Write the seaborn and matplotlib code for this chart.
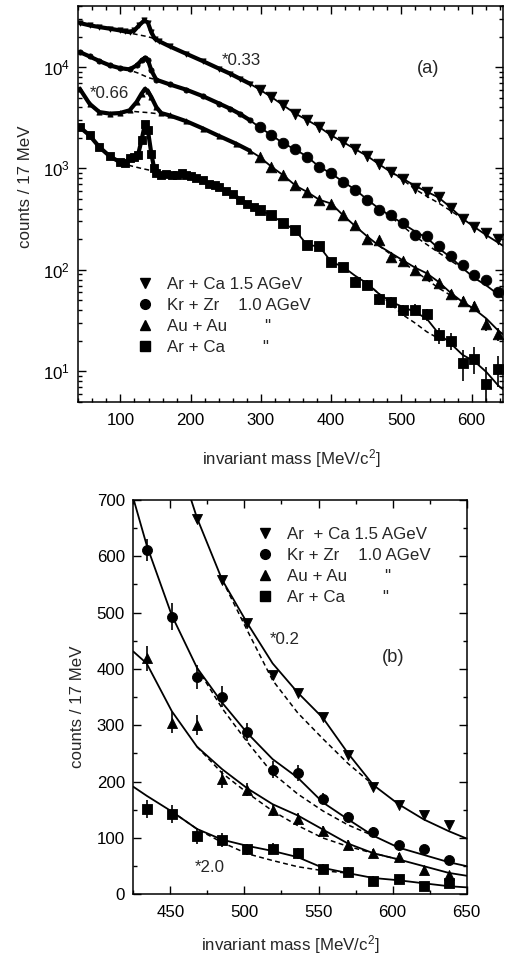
import numpy as np
import pandas as pd
import matplotlib
matplotlib.use("Agg")
import matplotlib.pyplot as plt
import seaborn as sns
from matplotlib.lines import Line2D
from matplotlib.ticker import FixedLocator, MultipleLocator, NullFormatter, FuncFormatter, LogLocator

sns.set_theme(style="ticks")
plt.rcParams["font.family"] = ["Liberation Sans", "DejaVu Sans"]
plt.rcParams["mathtext.fontset"] = "custom"
plt.rcParams["mathtext.rm"] = "Liberation Sans"
plt.rcParams["mathtext.it"] = "Liberation Sans:italic"
plt.rcParams["mathtext.default"] = "regular"

# ---------------- data (raw counts / 17 MeV) ----------------
MARKERS = ["v", "o", "^", "s"]
SCALE_A = [0.33, 1.0, 0.66, 1.0]   # scale factors used in panel (a)
SCALE_B = [0.2, 1.0, 1.0, 2.0]     # scale factors used in panel (b)

BINS = [298, 315, 332, 349, 366, 383, 400, 417, 434, 451, 468, 485, 502, 519,
        536, 553, 570, 587, 604, 621, 638]

s1_counts = [18200, 15330, 12700, 10520, 9090, 7760, 6420, 5520, 4700, 4030, 3335,
             2790, 2405, 1945, 1785, 1575, 1235, 955, 795, 705, 615]
s1_err = [90, 80, 75, 70, 65, 60, 55, 50, 45, 40, 35, 32, 30, 28, 26, 24, 22, 20, 18, 16, 15]
s2_counts = [2550, 2130, 1766, 1540, 1303, 1038, 893, 738, 611, 493, 386, 351, 289,
             221, 215, 170, 138, 111, 88, 80, 61]
s2_err = [40, 36, 33, 30, 28, 26, 24, 22, 20, 24, 21, 18, 16, 15, 14, 10, 9, 8, 7, 6, 5]
s3_counts = [1970, 1575, 1295, 1030, 886, 745, 682, 523, 419, 305, 300, 204, 186,
             150, 134, 112, 88, 74, 66, 44, 35]
s3_err = [35, 32, 29, 27, 25, 23, 22, 22, 22, 18, 18, 15, 12, 11, 10, 9, 8, 7, 7, 6, 5]
s4_counts = [390, 344, 290, 245, 175, 171, 120, 107, 76, 71, 51.5, 48, 40, 40.5,
             36.5, 22.5, 20, 12, 13.3, 7.5, 10.5]
s4_err = [12, 11, 10, 10, 9, 9, 8, 8, 8, 8, 7, 6, 5, 5, 5, 4, 4, 4, 4, 3.5, 3.5]

# fine-binned low-mass spectra (panel a)
s1_dense_x = [42, 56, 70, 85, 99, 106, 113, 120, 127, 134, 139, 144, 149, 155, 170,
              194, 218, 241, 256, 270, 284]
s1_dense_y = [82400, 78200, 75200, 72400, 69700, 68200, 67000, 69700, 78800, 87300,
              83300, 66700, 57600, 54500, 48500, 40900, 34500, 29100, 26100, 23300, 20800]
s2_dense_x = [42, 56, 70, 85, 99, 113, 123, 130, 135, 139, 144, 151, 170, 194, 218,
              241, 256, 270, 284]
s2_dense_y = [14060, 12740, 11460, 10380, 9770, 9480, 10380, 11640, 12370, 11800,
              9270, 7500, 6750, 5970, 5140, 4350, 3890, 3450, 3000]
s3_dense_x = [42, 56, 70, 85, 99, 113, 123, 130, 135, 139, 144, 151, 158, 170, 194,
              218, 241, 265, 284]
s3_dense_y = [9260, 6590, 5450, 5260, 5330, 5670, 6850, 8270, 9260, 8770, 7670, 6110,
              5330, 5050, 4420, 3740, 3150, 2650, 2270]
s4_dense_x = [42, 56, 70, 85, 99, 106, 113, 120, 125, 130, 135, 139, 144, 148, 151,
              158, 165, 173, 180, 187, 194, 200, 208, 218, 226, 234, 241, 250, 260,
              270, 280, 290]
s4_dense_y = [2560, 2120, 1625, 1315, 1157, 1120, 1280, 1290, 1350, 1900, 2750, 2400,
              1400, 1000, 900, 870, 880, 870, 860, 900, 860, 850, 800, 765, 700, 690,
              650, 600, 563, 490, 450, 420]

# full fit (solid curves)
FIT_X = [425, 434, 451, 468, 485, 502, 519, 536, 553, 570, 587, 604, 621, 638, 650]
s1_fit = [5100, 4700, 4030, 3340, 2790, 2405, 2050, 1790, 1565, 1250, 970, 800, 665, 560, 495]
s2_fit = [703, 620, 495, 402, 340, 286, 240, 207, 163, 133, 104, 83, 70, 57, 50]
s3_fit = [431, 410, 325, 262, 222, 188, 160, 140, 115, 90, 73, 62, 50, 38, 33]
s4_fit = [95.5, 87.5, 73.5, 58, 48.5, 43, 38.5, 33, 23.5, 18.8, 14.5, 12.5, 9.8, 7.2, 6.2]

# background fits (dashed curves): low-mass part and high-mass part
s1_bg_lo_x = [106, 120, 135, 144, 155]
s1_bg_lo_y = [67000, 64200, 61200, 59100, 54500]
s2_bg_lo_x = [108, 125, 140, 151]
s2_bg_lo_y = [9600, 8730, 7850, 7500]
s3_bg_lo_x = [108, 125, 140, 155, 165]
s3_bg_lo_y = [5610, 5480, 5380, 5230, 5110]
s4_bg_lo_x = [100, 115, 130, 145, 160, 180, 200, 220, 240, 260]
s4_bg_lo_y = [1140, 1060, 1000, 950, 900, 840, 790, 730, 660, 570]

s1_bg_hi_x = [485, 502, 519, 536, 553, 570, 587]
s1_bg_hi_y = [2790, 2340, 1900, 1610, 1380, 1160, 970]
s2_bg_hi_x = [468, 485, 502, 519, 536, 553, 570, 587]
s2_bg_hi_y = [402, 330, 270, 215, 178, 148, 123, 104]
s3_bg_hi_x = [468, 485, 502, 519, 536, 553, 570, 587, 604]
s3_bg_hi_y = [262, 215, 180, 148, 122, 100, 85, 73, 62]
s4_bg_hi_x = [451, 468, 485, 502, 519, 536, 553, 570]
s4_bg_hi_y = [73.5, 58, 46, 36, 30, 24.5, 21, 18.8]

LEG_A = ["Ar + Ca 1.5 AGeV", "Kr + Zr    1.0 AGeV", 'Au + Au        "', 'Ar + Ca        "']
LEG_B = ["Ar  + Ca 1.5 AGeV", "Kr + Zr    1.0 AGeV", 'Au + Au        "', 'Ar + Ca        "']

series = [
    dict(cnt=s1_counts, err=s1_err, dx=s1_dense_x, dy=s1_dense_y, fit=s1_fit,
         blx=s1_bg_lo_x, bly=s1_bg_lo_y, bhx=s1_bg_hi_x, bhy=s1_bg_hi_y),
    dict(cnt=s2_counts, err=s2_err, dx=s2_dense_x, dy=s2_dense_y, fit=s2_fit,
         blx=s2_bg_lo_x, bly=s2_bg_lo_y, bhx=s2_bg_hi_x, bhy=s2_bg_hi_y),
    dict(cnt=s3_counts, err=s3_err, dx=s3_dense_x, dy=s3_dense_y, fit=s3_fit,
         blx=s3_bg_lo_x, bly=s3_bg_lo_y, bhx=s3_bg_hi_x, bhy=s3_bg_hi_y),
    dict(cnt=s4_counts, err=s4_err, dx=s4_dense_x, dy=s4_dense_y, fit=s4_fit,
         blx=s4_bg_lo_x, bly=s4_bg_lo_y, bhx=s4_bg_hi_x, bhy=s4_bg_hi_y),
]

FS = 12.2
K = "black"
DASH = (0, (3.2, 2.2))

fig = plt.figure(figsize=(5.10, 9.56), dpi=100)
fig.patch.set_facecolor("white")
ax1 = fig.add_axes([0.1535, 0.5798, 0.8333, 0.4139])
ax2 = fig.add_axes([0.2614, 0.0645, 0.6537, 0.4125])


def line(ax, x, y, lw, ls="-", z=2):
    df = pd.DataFrame({"x": np.asarray(x, float), "y": np.asarray(y, float)})
    sns.lineplot(data=df, x="x", y="y", ax=ax, color=K, linewidth=lw, linestyle=ls,
                 sort=False, estimator=None, legend=False, zorder=z)


def points(ax, x, y, marker, size, z=4):
    df = pd.DataFrame({"x": np.asarray(x, float), "y": np.asarray(y, float)})
    sns.scatterplot(data=df, x="x", y="y", ax=ax, marker=marker, s=size, color=K,
                    edgecolor=K, linewidth=0.6, legend=False, zorder=z)


bins = np.array(BINS, float)
fitx = np.array(FIT_X, float)

# ---------------- panel (a) ----------------
for i, sd in enumerate(series):
    sc = SCALE_A[i]
    cnt = np.array(sd["cnt"], float) * sc
    err = np.array(sd["err"], float) * sc
    fit = np.array(sd["fit"], float) * sc
    dx = np.array(sd["dx"], float)
    dy = np.array(sd["dy"], float) * sc
    # dense low-mass data
    line(ax1, dx, dy, 3.0)
    points(ax1, dx, dy, MARKERS[i], 26 if i == 3 else 14)
    # solid curve continuing through the coarse data and the fit
    m_lo = bins < 434
    m_hi = fitx >= 434
    sx = np.concatenate([dx, bins[m_lo], fitx[m_hi]])
    sy = np.concatenate([dy, cnt[m_lo], fit[m_hi]])
    line(ax1, sx, sy, 1.3)
    # dashed backgrounds
    line(ax1, sd["blx"], np.array(sd["bly"], float) * sc, 1.1, DASH, z=3)
    line(ax1, sd["bhx"], np.array(sd["bhy"], float) * sc, 1.1, DASH, z=3)
    # coarse data
    ax1.errorbar(bins, cnt, yerr=err, fmt="none", ecolor=K, elinewidth=1.2, capsize=0, zorder=3)
    points(ax1, bins, cnt, MARKERS[i], 58 if i != 3 else 48)

ax1.set_yscale("log")
ax1.set_xlim(40, 645)
ax1.set_ylim(5, 4e4)
ax1.xaxis.set_major_locator(FixedLocator([100, 200, 300, 400, 500, 600]))
ax1.xaxis.set_minor_locator(MultipleLocator(20))
ax1.yaxis.set_major_locator(FixedLocator([10, 100, 1000, 10000]))
ax1.yaxis.set_minor_locator(LogLocator(base=10, subs=np.arange(2, 10)))
ax1.yaxis.set_minor_formatter(NullFormatter())
ax1.yaxis.set_major_formatter(FuncFormatter(lambda v, p: r"$10^{%d}$" % int(round(np.log10(v)))))
ax1.set_xlabel("invariant mass [MeV/c$^{2}$]", fontsize=FS)
ax1.set_ylabel("counts / 17 MeV", fontsize=FS)
ax1.xaxis.set_label_coords(0.502, -0.114)
ax1.yaxis.set_label_coords(-0.107, 0.543)

ax1.text(244, 11600, "*0.33", fontsize=FS, va="center", ha="left")
ax1.text(56, 5500, "*0.66", fontsize=FS, va="center", ha="left")
ax1.text(522, 9700, "(a)", fontsize=FS + 1, va="center", ha="left")

handles = [Line2D([], [], marker=m, color=K, linestyle="none", markersize=7) for m in MARKERS]
ax1.legend(handles, LEG_A, loc="upper left", bbox_to_anchor=(0.137, 0.315),
           frameon=False, fontsize=FS, handlelength=1.0, handletextpad=0.8,
           labelspacing=0.36, borderpad=0, borderaxespad=0)

# ---------------- panel (b) ----------------
for i, sd in enumerate(series):
    sc = SCALE_B[i]
    cnt = np.array(sd["cnt"], float) * sc
    err = np.array(sd["err"], float) * sc
    fit = np.array(sd["fit"], float) * sc
    mk = bins >= 425
    line(ax2, fitx, fit, 1.3)
    line(ax2, sd["bhx"], np.array(sd["bhy"], float) * sc, 1.1, DASH, z=3)
    ax2.errorbar(bins[mk], cnt[mk], yerr=err[mk], fmt="none", ecolor=K, elinewidth=1.2,
                 capsize=0, zorder=3)
    points(ax2, bins[mk], cnt[mk], MARKERS[i], 52 if i != 3 else 44)

ax2.set_xlim(425, 650)
ax2.set_ylim(0, 700)
ax2.xaxis.set_major_locator(FixedLocator([450, 500, 550, 600, 650]))
ax2.xaxis.set_minor_locator(MultipleLocator(25))
ax2.yaxis.set_major_locator(MultipleLocator(100))
ax2.yaxis.set_minor_locator(MultipleLocator(50))
ax2.set_xlabel("invariant mass [MeV/c$^{2}$]", fontsize=FS)
ax2.set_ylabel("counts / 17 MeV", fontsize=FS)
ax2.xaxis.set_label_coords(0.47, -0.098)
ax2.yaxis.set_label_coords(-0.145, 0.476)

ax2.text(517, 452, "*0.2", fontsize=FS, va="center", ha="left")
ax2.text(593, 420, "(b)", fontsize=FS + 1, va="center", ha="left")
ax2.text(466.5, 47, "*2.0", fontsize=FS, va="center", ha="left")

ax2.legend(handles, LEG_B, loc="upper left", bbox_to_anchor=(0.370, 0.932),
           frameon=False, fontsize=FS, handlelength=1.0, handletextpad=0.8,
           labelspacing=0.36, borderpad=0, borderaxespad=0)

for ax in (ax1, ax2):
    ax.set_facecolor("white")
    for sp in ax.spines.values():
        sp.set_visible(True)
        sp.set_color(K)
        sp.set_linewidth(1.1)
    ax.tick_params(which="both", direction="in", top=True, right=True, colors=K,
                   labelsize=FS, width=1.0)
    ax.tick_params(which="major", length=6)
    ax.tick_params(which="minor", length=3)
    ax.tick_params(axis="x", which="both", pad=8)
    ax.tick_params(axis="y", which="both", pad=6)
    ax.grid(False)

fig.savefig("out.png", dpi=100, facecolor="white")
